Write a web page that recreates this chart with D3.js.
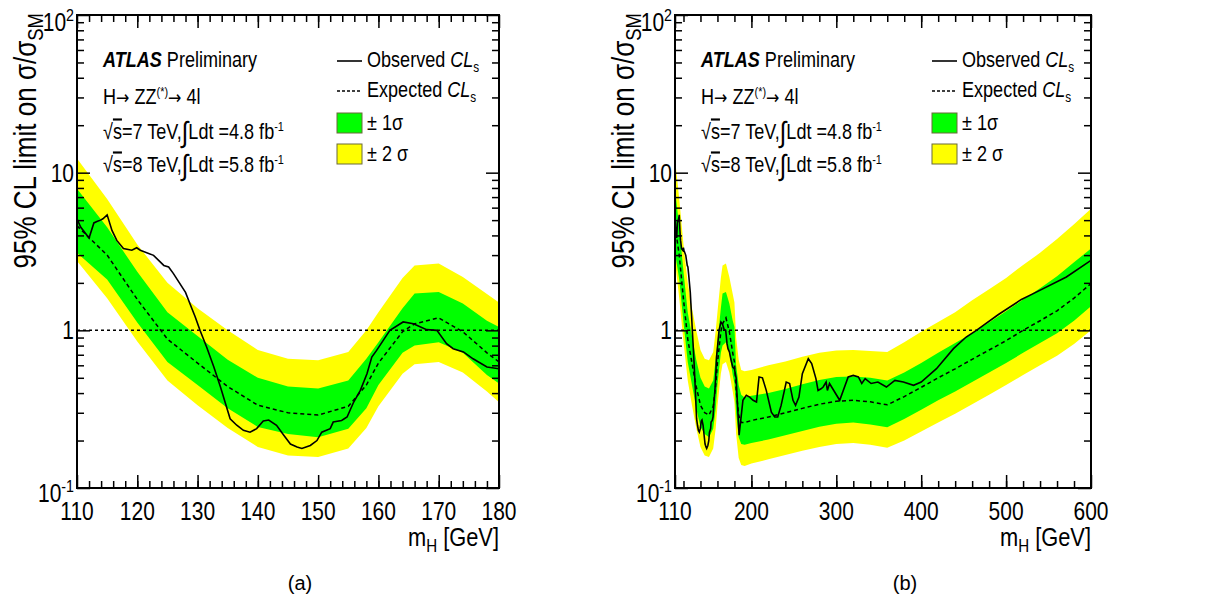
<!DOCTYPE html>
<meta charset="utf-8">
<style>
body { margin: 0; background: #fff; }
svg text { font-family: "Liberation Sans", Arial, sans-serif; }
</style>
<body>
<svg width="1210" height="606"></svg>
<script src="https://d3js.org/d3.v7.min.js"></script>
<script>
// low mass points (110-180 GeV), same curves in both panels
var massLow = [110, 115, 120, 125, 130, 135, 140, 145, 150, 155, 158, 160, 164, 166, 170, 174, 178, 180];
var expLow  = [4.6, 3.0, 1.57, 0.88, 0.62, 0.44, 0.335, 0.30, 0.29, 0.33, 0.45, 0.62, 0.98, 1.1, 1.2, 0.98, 0.72, 0.63];
var p1Low   = [7.9, 4.5, 2.35, 1.3, 0.92, 0.65, 0.5, 0.44, 0.427, 0.48, 0.66, 0.84, 1.38, 1.71, 1.75, 1.48, 1.15, 1.05];
var m1Low   = [3.1, 2.1, 1.12, 0.63, 0.45, 0.32, 0.244, 0.22, 0.21, 0.238, 0.32, 0.45, 0.72, 0.80, 0.84, 0.72, 0.52, 0.46];
var p2Low   = [12.3, 6.8, 3.5, 2.0, 1.38, 1.0, 0.75, 0.66, 0.645, 0.73, 1.0, 1.3, 2.15, 2.58, 2.65, 2.18, 1.7, 1.5];
var m2Low   = [2.75, 1.6, 0.85, 0.48, 0.335, 0.24, 0.182, 0.161, 0.157, 0.178, 0.24, 0.33, 0.53, 0.61, 0.63, 0.54, 0.41, 0.35];

var obsLowM = [110, 110.6, 112, 112.8, 113.3, 113.9, 114.3, 115, 115.8, 116.6, 117.7, 119.1, 119.9, 120.5, 122.7, 124.4, 125.2, 126, 128, 129.1, 129.6, 130.4,
               131.5, 132.7, 133.8, 135.4, 136.5, 137.6, 138.7, 139.8, 140.9, 141.8, 143.1, 144.3, 145.4, 146.5, 147.3, 148.7, 149.8, 150.6, 152, 152.5,
               153.9, 154.8, 155.9, 157, 158.1, 158.9, 159.7, 160.8, 161.9, 164.1, 165.8, 168, 169.7, 171.3, 172.4, 174.1, 175.7, 178, 180];
var obsLowV = [5.1, 4.52, 3.85, 4.8, 4.9, 5.0, 5.1, 5.4, 4.3, 3.72, 3.3, 3.22, 3.34, 3.22, 2.99, 2.58, 2.52, 2.29, 1.74, 1.36, 1.22, 1.0,
               0.784, 0.585, 0.437, 0.275, 0.25, 0.232, 0.226, 0.238, 0.266, 0.27, 0.25, 0.216, 0.19, 0.182, 0.178, 0.186, 0.2, 0.226, 0.238, 0.262,
               0.268, 0.282, 0.351, 0.416, 0.531, 0.677, 0.746, 0.864, 1.0, 1.13, 1.1, 1.01, 1.0, 0.823, 0.765, 0.73, 0.66, 0.585, 0.57];

// high mass points (above 180 GeV), right panel only
var massHigh = [182, 185, 188, 192, 200, 220, 240, 260, 280, 300, 320, 340, 360, 380, 400, 420, 440, 460, 480, 500, 520, 540, 560, 580, 600];
var expHigh  = [0.42, 0.29, 0.26, 0.26, 0.268, 0.282, 0.30, 0.32, 0.34, 0.355, 0.36, 0.352, 0.337, 0.38, 0.435, 0.50, 0.57, 0.655, 0.75, 0.86, 1.0, 1.15, 1.33, 1.6, 1.98];
var p1High   = [0.6, 0.45, 0.39, 0.375, 0.385, 0.40, 0.425, 0.455, 0.485, 0.505, 0.51, 0.50, 0.48, 0.54, 0.62, 0.72, 0.83, 0.96, 1.12, 1.32, 1.57, 1.85, 2.2, 2.7, 3.3];
var m1High   = [0.3, 0.21, 0.19, 0.188, 0.193, 0.203, 0.216, 0.23, 0.245, 0.256, 0.26, 0.253, 0.243, 0.274, 0.313, 0.36, 0.41, 0.47, 0.54, 0.62, 0.72, 0.83, 0.96, 1.15, 1.42];
var p2High   = [0.9, 0.65, 0.56, 0.55, 0.56, 0.6, 0.635, 0.68, 0.72, 0.745, 0.75, 0.74, 0.73, 0.84, 0.98, 1.13, 1.3, 1.55, 1.82, 2.15, 2.6, 3.1, 3.8, 4.7, 5.9];
var m2High   = [0.22, 0.155, 0.14, 0.138, 0.143, 0.152, 0.162, 0.172, 0.182, 0.19, 0.193, 0.188, 0.18, 0.2, 0.228, 0.26, 0.296, 0.34, 0.39, 0.45, 0.52, 0.6, 0.69, 0.82, 1.0];

var obsHighM = [182, 185.5, 190, 194, 198, 202, 206, 209, 213, 217.5, 223.5, 227.5, 231, 235, 241, 245, 249, 252, 256, 260, 267, 271, 276, 278.5, 282, 284.5,
                288, 289.5, 292, 304, 314, 320, 326, 330, 334, 341, 349, 359, 369, 379, 391, 400, 418, 438, 453, 465, 491, 518, 532, 571, 600];
var obsHighV = [0.5, 0.216, 0.36, 0.387, 0.377, 0.36, 0.351, 0.506, 0.5, 0.416, 0.303, 0.282, 0.282, 0.334, 0.47, 0.46, 0.36, 0.334, 0.377, 0.531, 0.66, 0.615, 0.494, 0.416, 0.426, 0.437,
                0.47, 0.416, 0.46, 0.36, 0.506, 0.518, 0.506, 0.46, 0.494, 0.46, 0.47, 0.437, 0.481, 0.47, 0.448, 0.47, 0.571, 0.765, 0.907, 1.0, 1.26, 1.57, 1.71, 2.18, 2.78];

var ticksA = [110, 120, 130, 140, 150, 160, 170, 180];
var minorA = d3.range(112, 180, 2);
var ticksB = [110, 200, 300, 400, 500, 600];
var minorB = d3.range(120, 600, 20);
var yMajor = [0.1, 1, 10, 100];
var yMinor = [0.2, 0.3, 0.4, 0.5, 0.6, 0.7, 0.8, 0.9, 2, 3, 4, 5, 6, 7, 8, 9, 20, 30, 40, 50, 60, 70, 80, 90];

var svg = d3.select("svg");
svg.append("rect").attr("width", 1210).attr("height", 606).attr("fill", "#fff");

var yTop = 15, yBot = 488;
var y = d3.scaleLog().domain([0.1, 100]).range([yBot, yTop]);
var narrow = 0.84; // the original font is a condensed Helvetica

function zip(ms, lo, hi) {
  return ms.map(function(m, i) { return {m: m, lo: lo[i], hi: hi[i]}; });
}
function pairs(ms, vs) {
  return ms.map(function(m, i) { return [m, vs[i]]; });
}
// text squeezed horizontally around its anchor point
function ntext(g, px, py, rot) {
  return g.append("text").attr("transform", "translate(" + px + "," + py + ")" + (rot ? " rotate(" + rot + ")" : "") + " scale(" + narrow + ",1)");
}
function arrow(t, dy) {
  t.append("tspan").attr("dy", dy).attr("font-family", "DejaVu Sans").attr("font-size", 19).text("\u2192");
}

function panel(o) {
  var x = d3.scaleLinear().domain(o.domain).range([o.left, o.right]);
  var g = svg.append("g");

  g.append("clipPath").attr("id", o.id)
    .append("rect").attr("x", o.left).attr("y", yTop).attr("width", o.right - o.left).attr("height", yBot - yTop);
  var plot = g.append("g").attr("clip-path", "url(#" + o.id + ")");

  var area = d3.area().x(function(d) { return x(d.m); })
      .y0(function(d) { return y(d.lo); }).y1(function(d) { return y(d.hi); });
  var line = d3.line().x(function(d) { return x(d[0]); }).y(function(d) { return y(d[1]); });

  plot.append("path").datum(zip(o.mass, o.m2, o.p2)).attr("fill", "#ffff00").attr("d", area);
  plot.append("path").datum(zip(o.mass, o.m1, o.p1)).attr("fill", "#00ff00").attr("d", area);

  plot.append("line").attr("x1", o.left).attr("x2", o.right).attr("y1", y(1)).attr("y2", y(1))
    .attr("stroke", "#000").attr("stroke-width", 1.5).attr("stroke-dasharray", "3,3");
  plot.append("path").datum(pairs(o.mass, o.exp)).attr("fill", "none").attr("stroke", "#000")
    .attr("stroke-width", 1.5).attr("stroke-dasharray", "4,3").attr("d", line);
  plot.append("path").datum(pairs(o.obsM, o.obsV)).attr("fill", "none").attr("stroke", "#000")
    .attr("stroke-width", 1.6).attr("d", line);

  // axes, ticks pointing inward on all four sides
  function ax(axis, tr, size, vals) {
    var a = g.append("g").attr("transform", tr)
      .call(axis.tickValues(vals).tickSize(size).tickSizeOuter(0).tickFormat(""));
    a.select(".domain").remove();
    a.selectAll("line").attr("stroke-width", 1.5);
    return a;
  }
  ax(d3.axisBottom(x), "translate(0," + yBot + ")", -13, o.ticks);
  ax(d3.axisBottom(x), "translate(0," + yBot + ")", -7, o.minor);
  ax(d3.axisTop(x), "translate(0," + yTop + ")", -13, o.ticks);
  ax(d3.axisTop(x), "translate(0," + yTop + ")", -7, o.minor);
  ax(d3.axisLeft(y), "translate(" + o.left + ",0)", -13, yMajor);
  ax(d3.axisLeft(y), "translate(" + o.left + ",0)", -7, yMinor);
  ax(d3.axisRight(y), "translate(" + o.right + ",0)", -13, yMajor);
  ax(d3.axisRight(y), "translate(" + o.right + ",0)", -7, yMinor);

  g.append("rect").attr("x", o.left).attr("y", yTop).attr("width", o.right - o.left).attr("height", yBot - yTop)
    .attr("fill", "none").attr("stroke", "#000").attr("stroke-width", 2);

  // x tick labels
  o.ticks.forEach(function(d) {
    ntext(g, x(d), 520).attr("text-anchor", "middle").attr("font-size", 25).text(d);
  });

  // y tick labels
  yMajor.forEach(function(d) {
    var dy = d === 100 ? 16 : d === 0.1 ? 14 : 9;
    var t = ntext(g, o.left - 3, y(d) + dy).attr("text-anchor", "end").attr("font-size", 25);
    if (d === 100 || d === 0.1) {
      t.append("tspan").text("10");
      t.append("tspan").attr("dy", -10).attr("font-size", 17).text(d === 100 ? "2" : "-1");
    } else {
      t.text(d);
    }
  });

  // axis titles
  var yt = ntext(g, o.left - 41, yTop - 2, -90).attr("text-anchor", "end").attr("font-size", 31);
  yt.append("tspan").text("95% CL limit on \u03c3/\u03c3");
  yt.append("tspan").attr("dy", 7).attr("font-size", 22).text("SM");

  var xt = ntext(g, o.right, 546).attr("text-anchor", "end").attr("font-size", 26);
  xt.append("tspan").text("m");
  xt.append("tspan").attr("dy", 6).attr("font-size", 18).text("H");
  xt.append("tspan").attr("dy", -6).text(" [GeV]");

  // labels inside the frame
  var tx = o.left + 26, fs = 21.5;
  var t1 = ntext(g, tx, 67).attr("font-size", fs);
  t1.append("tspan").attr("font-weight", "bold").attr("font-style", "italic").text("ATLAS");
  t1.append("tspan").text(" Preliminary");

  var t2 = ntext(g, tx, 104).attr("font-size", fs);
  t2.append("tspan").text("H");
  arrow(t2, 0);
  t2.append("tspan").text(" ZZ");
  t2.append("tspan").attr("dy", -8).attr("font-size", 13).text("(*)");
  arrow(t2, 8);
  t2.append("tspan").text(" 4l");

  [["7", "4.8", 139], ["8", "5.8", 172]].forEach(function(r) {
    var t = ntext(g, tx, r[2]).attr("font-size", fs);
    t.append("tspan").text("\u221a");
    t.append("tspan").attr("text-decoration", "overline").text("s");
    t.append("tspan").text("=" + r[0] + " TeV,");
    t.append("tspan").attr("font-size", 29).attr("dy", 3).text("\u222b");
    t.append("tspan").attr("dy", -3).text("Ldt =" + r[1] + " fb");
    t.append("tspan").attr("dy", -8).attr("font-size", 13).text("-1");
  });

  // legend
  var lx = o.lgX;
  g.append("line").attr("x1", lx).attr("x2", lx + 25).attr("y1", 61).attr("y2", 61).attr("stroke", "#000").attr("stroke-width", 1.6);
  g.append("line").attr("x1", lx).attr("x2", lx + 25).attr("y1", 91).attr("y2", 91).attr("stroke", "#000")
    .attr("stroke-width", 1.5).attr("stroke-dasharray", "3,2");
  [["Observed ", 67], ["Expected ", 97]].forEach(function(r) {
    var t = ntext(g, lx + 30, r[1]).attr("font-size", fs);
    t.append("tspan").text(r[0]);
    t.append("tspan").attr("font-style", "italic").text("CL");
    t.append("tspan").attr("dy", 5).attr("font-size", 14).text("s");
  });
  [["#00ff00", 113, "\u00b1 1\u03c3"], ["#ffff00", 144, "\u00b1 2 \u03c3"]].forEach(function(r) {
    g.append("rect").attr("x", lx).attr("y", r[1]).attr("width", 25).attr("height", 20)
      .attr("fill", r[0]).attr("stroke", "#6b6b3a").attr("stroke-width", 1);
    ntext(g, lx + 30, r[1] + 17).attr("font-size", fs).text(r[2]);
  });
}

panel({id: "ca", left: 77, right: 499, domain: [110, 180], ticks: ticksA, minor: minorA, lgX: 337,
  mass: massLow, exp: expLow, p1: p1Low, m1: m1Low, p2: p2Low, m2: m2Low, obsM: obsLowM, obsV: obsLowV});

panel({id: "cb", left: 675, right: 1091, domain: [110, 600], ticks: ticksB, minor: minorB, lgX: 932,
  mass: massLow.concat(massHigh), exp: expLow.concat(expHigh), p1: p1Low.concat(p1High), m1: m1Low.concat(m1High),
  p2: p2Low.concat(p2High), m2: m2Low.concat(m2High), obsM: obsLowM.concat(obsHighM), obsV: obsLowV.concat(obsHighV)});

// sub-figure captions
svg.append("text").attr("x", 300).attr("y", 590).attr("text-anchor", "middle")
  .attr("font-family", "Liberation Serif, serif").attr("font-size", 20).text("(a)");
svg.append("text").attr("x", 905).attr("y", 590).attr("text-anchor", "middle")
  .attr("font-family", "Liberation Serif, serif").attr("font-size", 20).text("(b)");
</script>
</body>
